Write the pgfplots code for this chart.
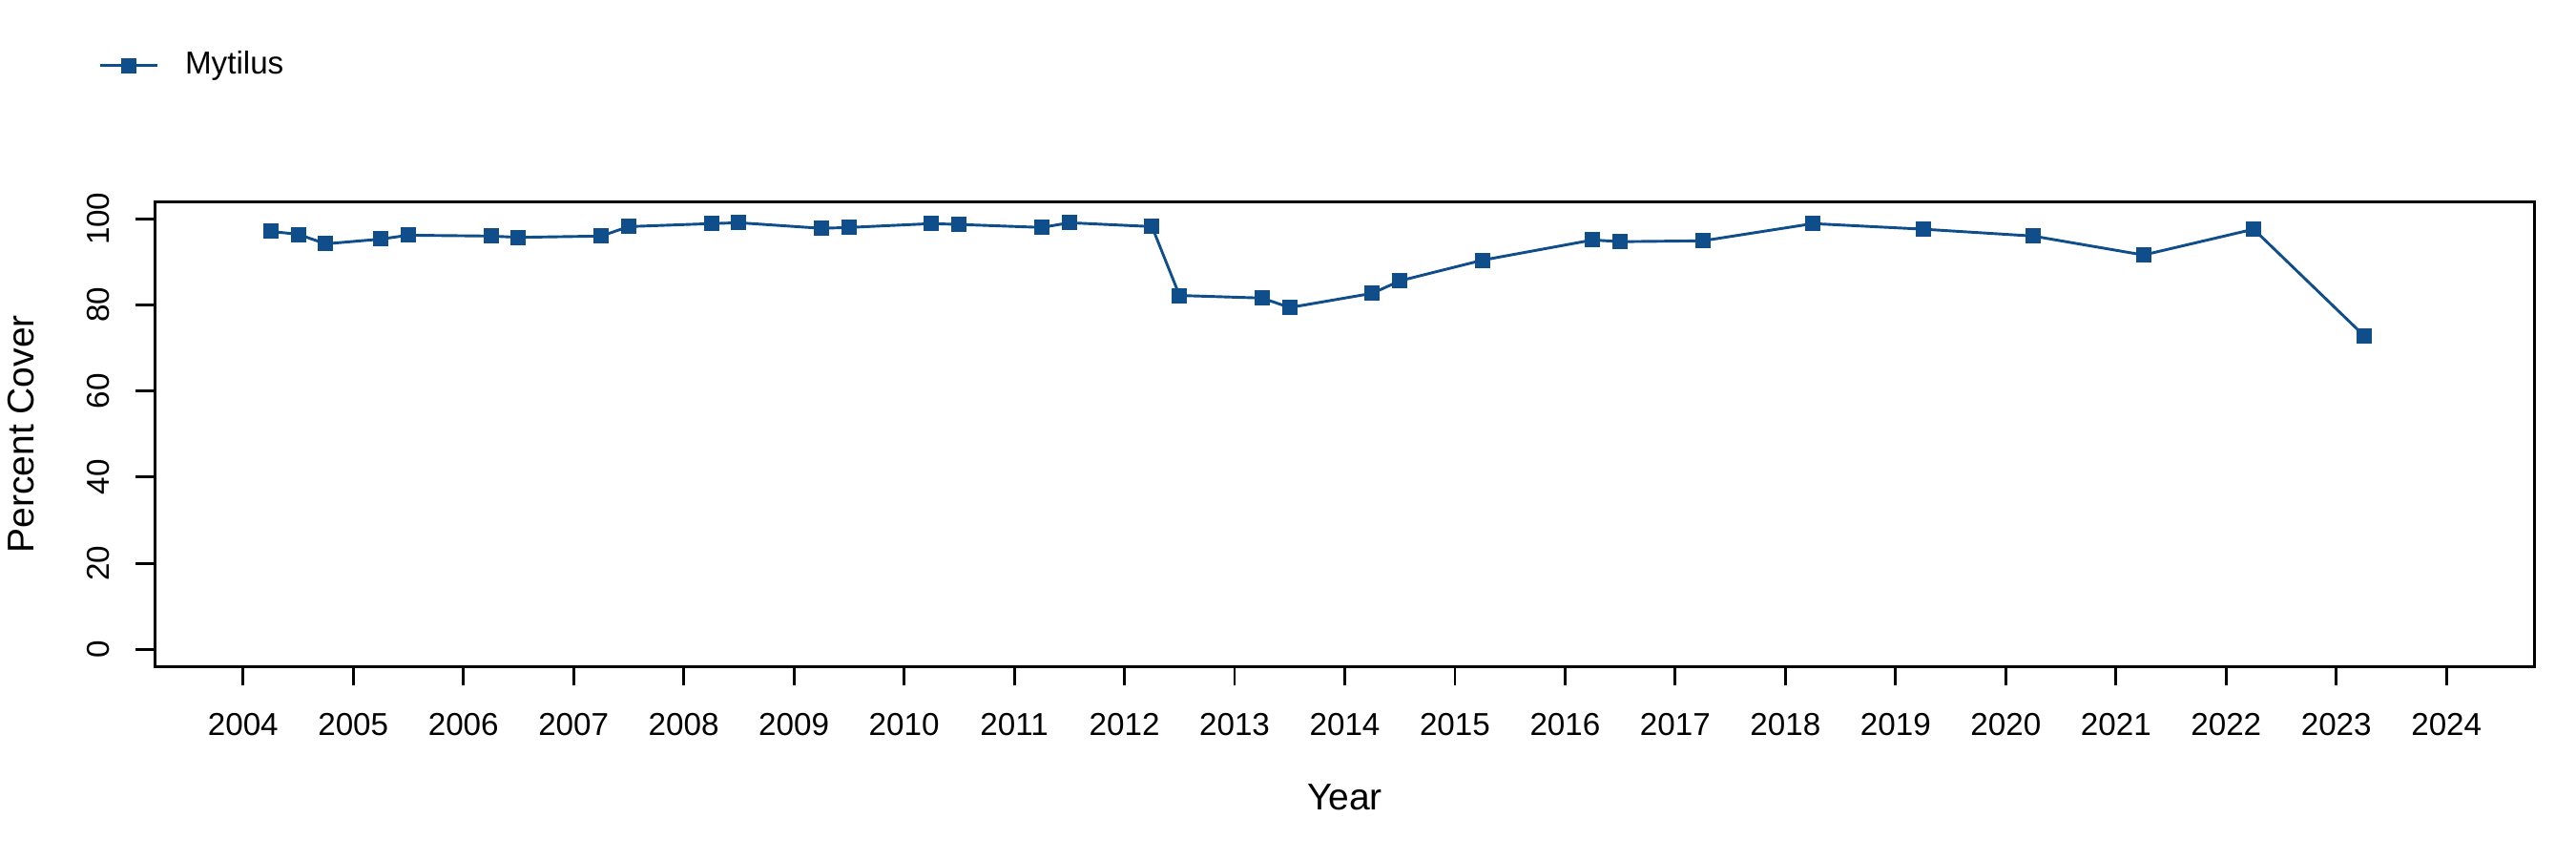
\documentclass[border=0pt]{standalone}
\usepackage{fontspec}
\setmainfont{Liberation Sans}
\usepackage{pgfplots}
\pgfplotsset{compat=1.18}
\definecolor{dblue}{RGB}{16,78,139}

\begin{document}
\begin{tikzpicture}
\path[use as bounding box] (-38.98bp,-48.4bp) rectangle (609.02bp,167.6bp);
\begin{axis}[
    at={(0,0)}, anchor=south west,
    scale only axis,
    width=598.6bp, height=116.9bp,
    xmin=2003.2, xmax=2024.8,
    ymin=-4, ymax=104,
    xtick={2004,2005,...,2024},
    ytick={0,20,40,60,80,100},
    tick align=outside,
    major tick length=4.8bp,
    axis line style={line width=0.7bp},
    every tick/.style={black, line width=0.7bp},
    xtick pos=bottom, ytick pos=left,
    /pgf/number format/assume math mode=true,
    /pgf/number format/1000 sep={},
    tick label style={font=\fontsize{8}{9.6}\selectfont},
    xticklabel style={anchor=center, yshift=-9.7bp},
    yticklabel style={rotate=90, anchor=center, yshift=9.5bp},
    xlabel={Year}, ylabel={Percent Cover},
    label style={font=\fontsize{9.4}{11}\selectfont},
    xlabel style={at={(axis description cs:0.5,-0.2806)}, anchor=center},
    ylabel style={at={(axis description cs:-0.0563,0.5)}, anchor=center},
    legend style={draw=none, fill=none, inner sep=0pt, outer sep=0pt,
        at={(axis description cs:-0.0234,1.2926)}, anchor=west,
        nodes={inner sep=0pt, font=\fontsize{8}{9.6}\selectfont},
        /tikz/every odd column/.append style={column sep=6.7bp}},
    legend image code/.code={
        \draw[mark repeat=2,mark phase=2,#1] plot coordinates {(0bp,0bp) (7.1bp,0bp) (14.2bp,0bp)};
    },
]
\addplot[dblue, line width=0.7bp, mark=square*, mark size=1.8bp,
    mark options={solid, fill=dblue, line width=0pt}] coordinates {
    (2004.25,97.1) (2004.5,96.4) (2004.75,94.2)
    (2005.25,95.3) (2005.5,96.2)
    (2006.25,96.0) (2006.5,95.7)
    (2007.25,96.0) (2007.5,98.2)
    (2008.25,98.9) (2008.5,99.1)
    (2009.25,97.8) (2009.5,98.0)
    (2010.25,98.9) (2010.5,98.7)
    (2011.25,98.0) (2011.5,99.1)
    (2012.25,98.2) (2012.5,82.2)
    (2013.25,81.6) (2013.5,79.4)
    (2014.25,82.7) (2014.5,85.6)
    (2015.25,90.4)
    (2016.25,95.1) (2016.5,94.7)
    (2017.25,94.9)
    (2018.25,98.9)
    (2019.25,97.6)
    (2020.25,96.0)
    (2021.25,91.6)
    (2022.25,97.6)
    (2023.25,72.9)
};
\addlegendentry{Mytilus}
\end{axis}
\end{tikzpicture}
\end{document}
